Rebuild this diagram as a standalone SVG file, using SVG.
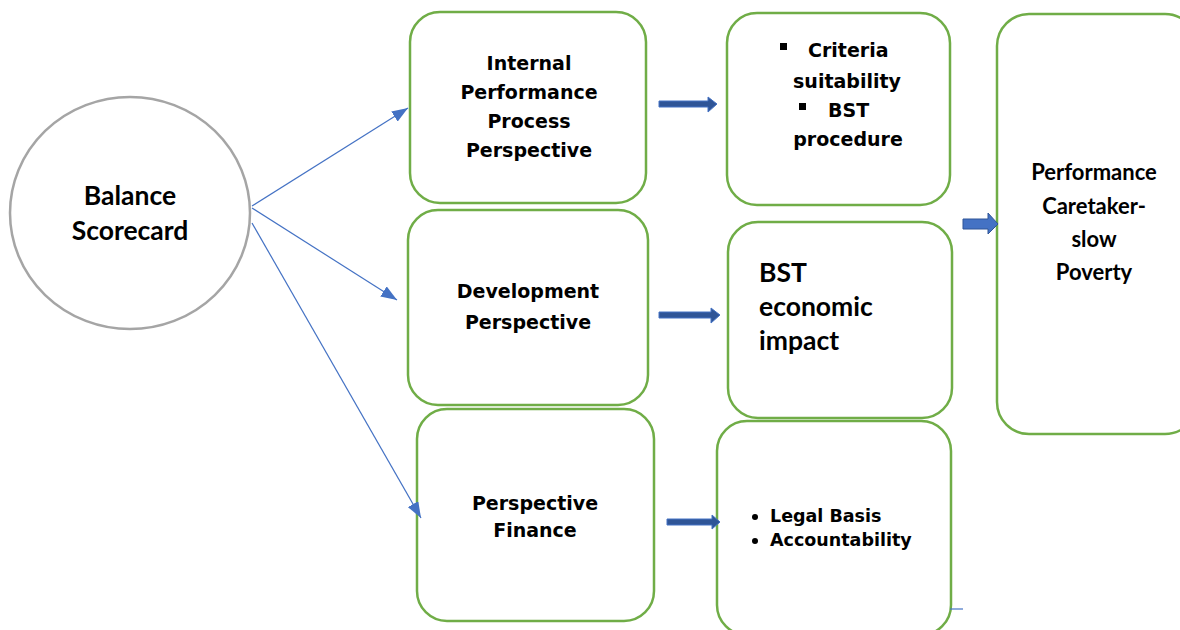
<svg xmlns="http://www.w3.org/2000/svg" width="1180" height="630" viewBox="0 0 1180 630">
  <style>
    .box { fill: #ffffff; stroke: #70AD47; stroke-width: 2.5; }
    .hub { fill: #ffffff; stroke: #A5A5A5; stroke-width: 2.5; }
    .tv { font-family: "DejaVu Sans", Verdana, sans-serif; font-weight: bold; font-size: 19px; fill: #000000; }
    .tv.small { font-size: 17.5px; }
    .tc { font-family: Lato, "Open Sans", sans-serif; font-weight: bold; fill: #000000; }
    .mid { text-anchor: middle; }
    .link { stroke: #4472C4; stroke-width: 1.2; fill: none; }
    .blk { fill: #2F5597; stroke: #4472C4; stroke-width: 1; }
    .blk2 { fill: #4472C4; stroke: #2F5597; stroke-width: 1; }
  </style>
  <defs>
    <marker id="tri" viewBox="0 0 16 12" refX="16" refY="6" markerWidth="16" markerHeight="12" markerUnits="userSpaceOnUse" orient="auto">
      <path d="M0,0 L16,6 L0,12 Z" fill="#4472C4"/>
    </marker>
  </defs>

  <!-- hub -->
  <g id="balance-scorecard">
    <ellipse class="hub" cx="130" cy="213" rx="120" ry="116"/>
    <text class="tc mid" x="130" y="205" font-size="26.5">Balance</text>
    <text class="tc mid" x="130" y="240" font-size="26.5">Scorecard</text>
  </g>

  <!-- perspectives -->
  <g id="internal-process">
    <rect class="box" x="410" y="12" width="236" height="191" rx="30"/>
    <text class="tv mid" x="529" y="70">Internal</text>
    <text class="tv mid" x="529" y="99">Performance</text>
    <text class="tv mid" x="529" y="128">Process</text>
    <text class="tv mid" x="529" y="157">Perspective</text>
  </g>

  <g id="development">
    <rect class="box" x="408" y="210" width="240" height="195" rx="30"/>
    <text class="tv mid" x="528" y="298">Development</text>
    <text class="tv mid" x="528" y="329">Perspective</text>
  </g>

  <g id="finance">
    <rect class="box" x="417" y="409" width="237" height="212" rx="30"/>
    <text class="tv mid" x="535" y="510">Perspective</text>
    <text class="tv mid" x="535" y="537">Finance</text>
  </g>

  <!-- outcomes -->
  <g id="criteria">
    <rect class="box" x="727" y="13" width="223" height="192" rx="30"/>
    <rect x="780" y="43" width="7" height="7" fill="#000000"/>
    <text class="tv" x="808" y="57">Criteria</text>
    <text class="tv mid" x="847" y="88">suitability</text>
    <rect x="799" y="103" width="7" height="7" fill="#000000"/>
    <text class="tv" x="828" y="117">BST</text>
    <text class="tv mid" x="848" y="146">procedure</text>
  </g>

  <g id="economic-impact">
    <rect class="box" x="728" y="222" width="224" height="196" rx="30"/>
    <text class="tc" x="759" y="282" font-size="26.5">BST</text>
    <text class="tc" x="759" y="316" font-size="26.5">economic</text>
    <text class="tc" x="759" y="350" font-size="26.5">impact</text>
  </g>

  <g id="legal-basis">
    <rect class="box" x="717" y="421" width="234" height="214" rx="30"/>
    <circle cx="755" cy="517" r="3" fill="#000000"/>
    <text class="tv small" x="770" y="522">Legal Basis</text>
    <circle cx="755" cy="541" r="3" fill="#000000"/>
    <text class="tv small" x="770" y="546">Accountability</text>
  </g>

  <g id="performance">
    <rect class="box" x="997" y="14" width="200" height="420" rx="32"/>
    <text class="tc mid" x="1094" y="180" font-size="22">Performance</text>
    <text class="tc mid" x="1094" y="214" font-size="22">Caretaker-</text>
    <text class="tc mid" x="1094" y="247" font-size="22">slow</text>
    <text class="tc mid" x="1094" y="280" font-size="22">Poverty</text>
  </g>

  <!-- connectors -->
  <g id="connectors">
    <line class="link" x1="252" y1="206" x2="408" y2="108" marker-end="url(#tri)"/>
    <line class="link" x1="252" y1="208" x2="397" y2="300" marker-end="url(#tri)"/>
    <line class="link" x1="252" y1="223" x2="421" y2="518" marker-end="url(#tri)"/>
    <line class="link" x1="950" y1="609" x2="963" y2="609"/>

    <path class="blk" d="M659,101 H708 V97 L717,104 L708,112 V107 H659 Z"/>
    <path class="blk" d="M659,312 H711 V308 L720,315 L711,323 V318 H659 Z"/>
    <path class="blk" d="M667,519 H712 V515 L720,522 L712,529 V525 H667 Z"/>
    <path class="blk2" d="M963,219 H988 V213 L998,224 L988,234 V229 H963 Z"/>
  </g>
</svg>
